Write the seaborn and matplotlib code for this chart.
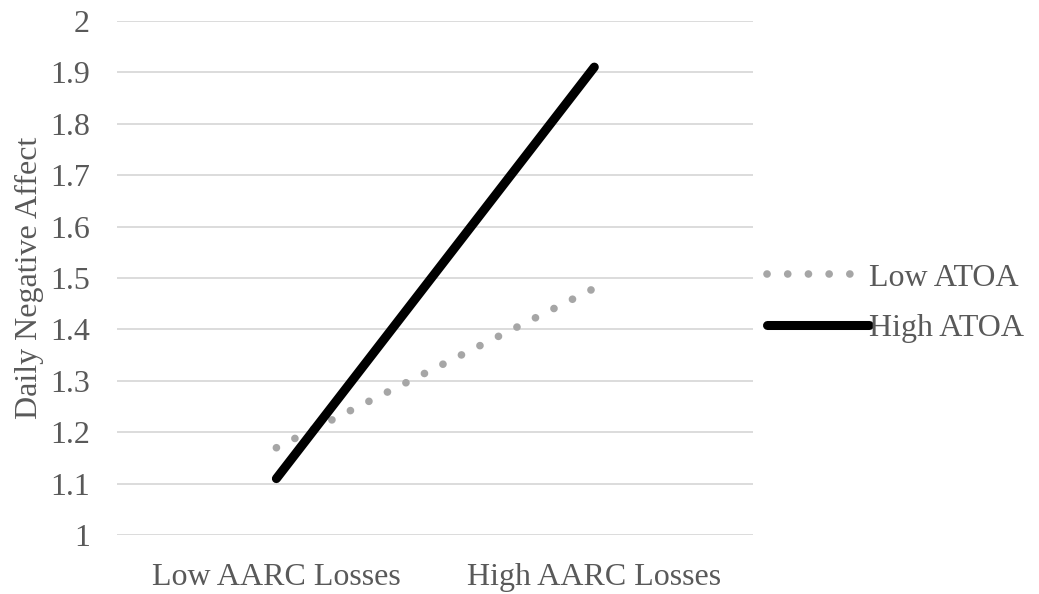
import matplotlib
matplotlib.use("Agg")
import matplotlib.pyplot as plt
import seaborn as sns
import pandas as pd

categories = ["Low AARC Losses", "High AARC Losses"]
low_atoa = [1.17, 1.48]
high_atoa = [1.11, 1.91]
y_ticks = [1, 1.1, 1.2, 1.3, 1.4, 1.5, 1.6, 1.7, 1.8, 1.9, 2]

sns.set_style("white")
plt.rcParams["font.family"] = ["Liberation Serif", "DejaVu Serif"]

text_color = "#595959"
fs = 23

fig = plt.figure(figsize=(10.39, 5.94), dpi=100)
ax = fig.add_axes([0.113, 0.099, 0.612, 0.866])

x = list(range(len(categories)))
df_low = pd.DataFrame({"x": x, "y": low_atoa})
df_high = pd.DataFrame({"x": x, "y": high_atoa})

sns.lineplot(data=df_low, x="x", y="y", ax=ax, color="#a6a6a6", linewidth=5.5,
             linestyle=(0, (0.01, 2.7)), label="Low ATOA")
sns.lineplot(data=df_high, x="x", y="y", ax=ax, color="black", linewidth=6.5,
             label="High ATOA")
for ln in ax.lines:
    ln.set_dash_capstyle("round")
    ln.set_solid_capstyle("round")

ax.set_xlim(-0.5, 1.5)
ax.set_ylim(1, 2)
ax.set_yticks(y_ticks)
ax.set_yticklabels([f"{t:g}" for t in y_ticks])
ax.set_xticks(x)
ax.set_xticklabels(categories)
ax.yaxis.grid(True, color="#d9d9d9", linewidth=1.3)
ax.set_axisbelow(True)
for s in ax.spines.values():
    s.set_visible(False)
ax.tick_params(axis="both", length=0, labelsize=fs, labelcolor=text_color)
ax.tick_params(axis="x", pad=20)
ax.tick_params(axis="y", pad=20)
ax.set_xlabel("")
ax.set_ylabel("Daily Negative Affect", fontsize=fs, color=text_color, labelpad=4)

leg = ax.legend(loc="center left", bbox_to_anchor=(0.738, 0.49),
                bbox_transform=fig.transFigure, frameon=False,
                fontsize=fs, handlelength=3.2, handletextpad=0.0, labelspacing=0.65,
                borderaxespad=0, borderpad=0)
for t in leg.get_texts():
    t.set_color(text_color)
for h in leg.get_lines():
    h.set_dash_capstyle("round")
    h.set_solid_capstyle("round")

fig.savefig("out.png", dpi=100)
